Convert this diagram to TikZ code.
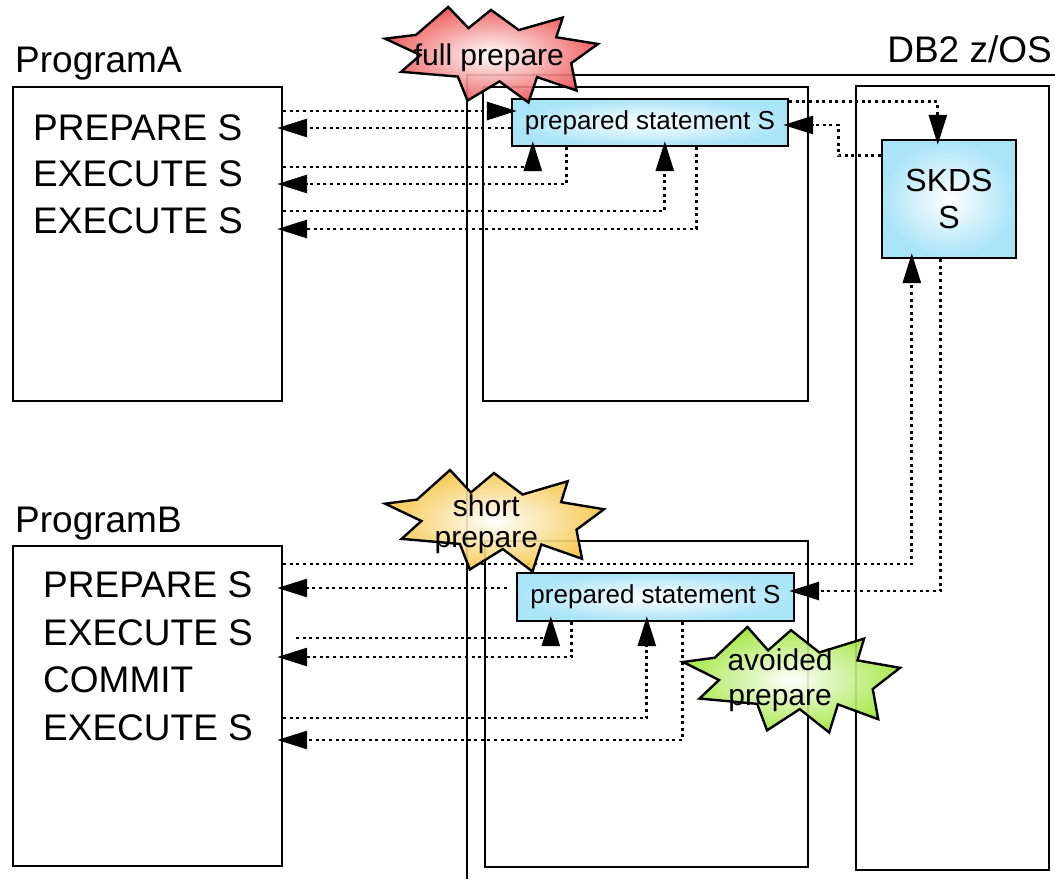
\documentclass[tikz,border=0pt]{standalone}
\usepackage{fontspec}
\setmainfont{Liberation Sans}
\usetikzlibrary{arrows.meta}

\definecolor{stmtBlue}{RGB}{170,228,248}
\definecolor{burstRed}{RGB}{238,84,84}
\definecolor{burstYellow}{RGB}{246,196,66}
\definecolor{burstGreen}{RGB}{158,230,56}

% outline of an explosion, in units of its half width / half height
\def\burstOutline{(-0.99,0.34) -- (-0.70,0.42) -- (-0.40,1.00) -- (-0.21,0.56) -- (0.00,0.94)
  -- (0.26,0.52) -- (0.67,0.78) -- (0.61,0.37) -- (1.00,0.23) -- (0.75,-0.17) -- (0.80,-0.74)
  -- (0.43,-0.46) -- (0.35,-0.99) -- (0.08,-0.55) -- (-0.22,-0.95) -- (-0.31,-0.45)
  -- (-0.84,-0.35) -- (-0.66,0.00) -- cycle}

\begin{document}
\begin{tikzpicture}[
    x=1pt, y=1pt,
    >={Triangle[length=30pt,width=18pt]},
    bigText/.style={
        inner sep=0pt,
        font=\fontsize{37pt}{42pt}\selectfont
    },
    plainBox/.style={
        rectangle,
        draw=black,
        line width=2.4pt,
        inner sep=0pt
    },
    stmtBox/.style={
        plainBox,
        shading=radial,
        inner color=white,
        outer color=stmtBlue,
        font=\fontsize{26pt}{30pt}\selectfont
    },
    frameLine/.style={
        draw=black,
        line width=2.6pt
    },
    callMsg/.style={
        draw=black,
        line width=2.8pt,
        dash pattern=on 3pt off 3.6pt,
        shorten >=-6pt,
        ->
    },
    burstLine/.style={
        draw=black,
        line width=2.4pt,
        line join=miter,
        shading=radial,
        inner color=white,
        fill opacity=0.9
    },
    burstText/.style={
        align=center,
        inner sep=0pt,
        font=\fontsize{30pt}{33pt}\selectfont
    }
]
\useasboundingbox (0,0) rectangle (1055,-879);

% ==================== DB2 REGION ====================
\draw[frameLine] (467,-879) -- (467,-75) -- (1055,-75);
\node[bigText, anchor=base east] (db2Label) at (1052,-62) {DB2 z/OS};
\node[plainBox, minimum width=193pt, minimum height=784pt] (db2Box) at (952.5,-478) {};

% ==================== PROGRAMS ====================
\node[plainBox, minimum width=269pt, minimum height=314pt] (progA) at (147.5,-244) {};
\node[bigText, anchor=base west] (progALabel) at (15,-72) {ProgramA};
\node[bigText, anchor=base west] (prepA) at (33,-140) {PREPARE S};
\node[bigText, anchor=base west] (execA1) at (33,-186) {EXECUTE S};
\node[bigText, anchor=base west] (execA2) at (33,-233) {EXECUTE S};

\node[plainBox, minimum width=269pt, minimum height=320pt] (progB) at (147.5,-706) {};
\node[bigText, anchor=base west] (progBLabel) at (15,-532) {ProgramB};
\node[bigText, anchor=base west] (prepB) at (43,-597) {PREPARE S};
\node[bigText, anchor=base west] (execB1) at (43,-645) {EXECUTE S};
\node[bigText, anchor=base west] (commitB) at (43,-692) {COMMIT};
\node[bigText, anchor=base west] (execB2) at (43,-740) {EXECUTE S};

% ==================== THREADS ====================
\node[plainBox, minimum width=325pt, minimum height=314pt] (threadA) at (645.5,-244) {};
\node[plainBox, minimum width=323pt, minimum height=326pt] (threadB) at (646.5,-704) {};

\node[stmtBox, minimum width=276pt, minimum height=47pt] (psA) at (650,-122.5) {prepared statement S};
\node[stmtBox, minimum width=277pt, minimum height=48pt] (psB) at (655.5,-597) {prepared statement S};

\node[stmtBox, align=center, minimum width=134pt, minimum height=118pt,
      font=\fontsize{32pt}{37pt}\selectfont] (skds) at (949,-199) {SKDS\\S};

% ==================== PROGRAM A ====================
\draw[callMsg] (progA.east |- 0,-111) -- (psA.west |- 0,-111);
\draw[callMsg] (psA.west |- 0,-128) -- (progA.east |- 0,-128);
\draw[callMsg] ([yshift=-4pt]psA.north east) -| ([xshift=57pt]skds.north west);
\draw[callMsg] ([yshift=-17pt]skds.north west) -| ([xshift=49pt,yshift=-2.5pt]psA.east) -- ([yshift=-2.5pt]psA.east);
\draw[callMsg] (progA.east |- 0,-167) -| ([xshift=22pt]psA.south west);
\draw[callMsg] ([xshift=56pt]psA.south west) |- (progA.east |- 0,-184);
\draw[callMsg] (progA.east |- 0,-211) -| ([xshift=154pt]psA.south west);
\draw[callMsg] ([xshift=186pt]psA.south west) |- (progA.east |- 0,-229);

% ==================== PROGRAM B ====================
\draw[callMsg] (progB.east |- 0,-564) -| ([xshift=31pt]skds.south west);
\draw[callMsg] ([xshift=60pt]skds.south west) |- ([yshift=6pt]psB.east);
\draw[callMsg] ([xshift=-9pt,yshift=9pt]psB.west) -- (progB.east |- 0,-588);
\draw[callMsg] ([xshift=13pt]progB.east |- 0,-638) -| ([xshift=35pt]psB.south west);
\draw[callMsg] ([xshift=56pt]psB.south west) |- (progB.east |- 0,-657);
\draw[callMsg] (progB.east |- 0,-718) -| ([xshift=131pt]psB.south west);
\draw[callMsg] ([xshift=167pt]psB.south west) |- (progB.east |- 0,-740);

% ==================== EXPLOSIONS ====================
\begin{scope}[shift={(491,-55)}, x=107pt, y=48pt]
  \path[burstLine, outer color=burstRed] \burstOutline;
  \node[burstText] (fullPrep) at (-0.02,-0.05) {full prepare};
\end{scope}

\begin{scope}[shift={(494,-521)}, x=110pt, y=51pt]
  \path[burstLine, outer color=burstYellow] \burstOutline;
  \node[burstText, font=\fontsize{30pt}{31pt}\selectfont] (shortPrep) at (-0.07,-0.06) {short\\prepare};
\end{scope}

\begin{scope}[shift={(791,-680)}, x=109pt, y=53pt]
  \path[burstLine, outer color=burstGreen] \burstOutline;
  \node[burstText, font=\fontsize{30pt}{35pt}\selectfont] (avoidPrep) at (-0.10,0) {avoided\\prepare};
\end{scope}

\end{tikzpicture}
\end{document}
